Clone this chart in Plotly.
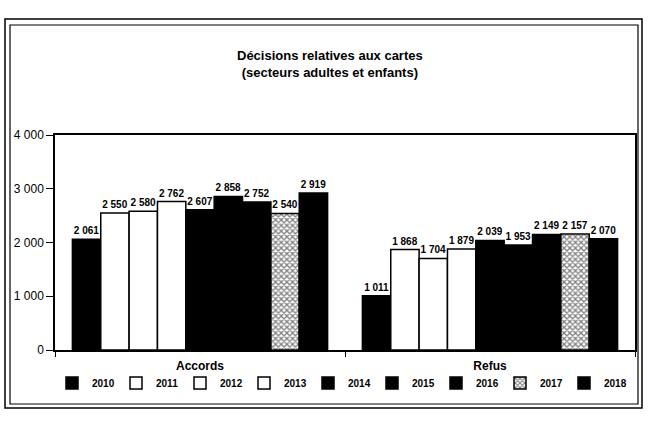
import plotly.graph_objects as go

categories = ["Accords", "Refus"]
years = ["2010", "2011", "2012", "2013", "2014", "2015", "2016", "2017", "2018"]
accords = [2061, 2550, 2580, 2762, 2607, 2858, 2752, 2540, 2919]
refus = [1011, 1868, 1704, 1879, 2039, 1953, 2149, 2157, 2070]
y_ticks = [0, 1000, 2000, 3000, 4000]
y_ticktext = ["0", "1 000", "2 000", "3 000", "4 000"]

FONT = "Liberation Sans, Arial, sans-serif"

fills = ["black", "white", "white", "white", "black", "black", "black", "white", "black"]

def fmt(v):
    return f"{v:,}".replace(",", " ")

fig = go.Figure()
for i, yr in enumerate(years):
    vals = [accords[i], refus[i]]
    marker = dict(color=fills[i], line=dict(color="black", width=1.5))
    if yr == "2017":
        marker["pattern"] = dict(shape="x", fgcolor="black", bgcolor="white", size=4, solidity=0.55)
    fig.add_trace(go.Bar(
        name="<b>" + yr + "</b>", x=categories, y=vals,
        marker=marker,
        text=["<b>" + fmt(v) + "</b>" for v in vals], textposition="outside",
        textfont=dict(family=FONT, size=10, color="black"),
        cliponaxis=False,
    ))

L, R, T, B = 55, 13, 135, 71
W, H = 648, 421
pw, ph = W - L - R, H - T - B

def px(x):
    return (x - L) / pw

def py(y):
    return (H - B - y) / ph

shapes = [
    dict(type="rect", xref="paper", yref="paper", x0=px(5), x1=px(642), y0=py(408), y1=py(19),
         line=dict(color="black", width=1.5), layer="below"),
    dict(type="rect", xref="paper", yref="paper", x0=px(10), x1=px(638), y0=py(404), y1=py(25),
         line=dict(color="black", width=1.2), layer="below"),
]

fig.update_layout(
    width=W, height=H,
    margin=dict(l=L, r=R, t=T, b=B, autoexpand=False),
    paper_bgcolor="white", plot_bgcolor="white",
    barmode="group", bargap=0.12, bargroupgap=0,
    font=dict(family=FONT, color="black", size=11),
    showlegend=True,
    legend=dict(orientation="h", x=px(340), xanchor="center", y=py(383), yanchor="middle",
                itemwidth=30, entrywidth=19, entrywidthmode="pixels",
                bgcolor="rgba(0,0,0,0)", tracegroupgap=0,
                font=dict(family=FONT, size=10, color="black"), traceorder="normal"),
    shapes=shapes,
    annotations=[dict(text="<b>Décisions relatives aux cartes<br>(secteurs adultes et enfants)</b>",
                      xref="paper", yref="paper", x=px(330), y=py(64), xanchor="center", yanchor="middle",
                      showarrow=False, font=dict(family=FONT, size=13, color="black"))],
    xaxis=dict(showline=True, linecolor="black", linewidth=1.5, mirror=True,
               ticks="outside", tickson="boundaries", ticklen=5, tickcolor="black",
               ticklabelstandoff=4,
               tickfont=dict(family=FONT, size=12, color="black")),
    yaxis=dict(range=[0, 4000], tickvals=y_ticks, ticktext=y_ticktext, showgrid=False, zeroline=False,
               showline=True, linecolor="black", linewidth=1.5, mirror=True,
               ticks="outside", ticklen=7, tickcolor="black",
               tickfont=dict(family=FONT, size=12, color="black")),
)
fig.update_xaxes(tickprefix="<b>", ticksuffix="</b>")
fig.update_yaxes(tickprefix="<b>", ticksuffix="</b>")

fig.write_html("out.html", config={"displayModeBar": False},
               post_script="document.body.style.margin='0px';")
